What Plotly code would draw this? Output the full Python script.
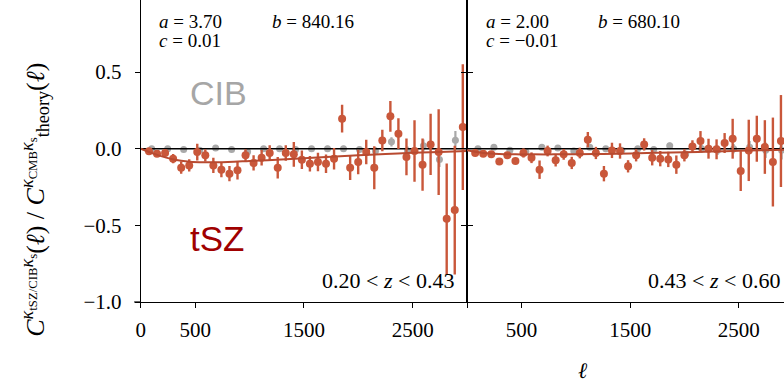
import plotly.graph_objects as go

# ---------------- data ----------------
ell_red = [75, 149, 223, 297, 371, 445, 519, 593, 667, 741, 815, 889, 963, 1037, 1111,
           1185, 1259, 1333, 1407, 1481, 1555, 1629, 1703, 1777, 1851, 1925, 1999, 2073,
           2147, 2221, 2295, 2369, 2443, 2517, 2591, 2665, 2739, 2813, 2887, 2961]
ell_cib = [100, 247, 394, 541, 688, 835, 982, 1129, 1276, 1423, 1570, 1717, 1864, 2011,
           2158, 2305, 2452, 2599, 2746, 2893]

tsz_left = [-0.017, -0.033, -0.028, -0.065, -0.124, -0.109, -0.022, -0.043, -0.109, -0.137,
            -0.163, -0.141, -0.043, -0.093, -0.059, -0.028, -0.124, -0.028, -0.037, -0.072,
            -0.098, -0.087, -0.098, -0.065, 0.196, -0.124, -0.087, -0.022, -0.124, 0.054,
            0.211, 0.098, -0.054, -0.015, -0.104, 0.028, -0.022, -0.457, -0.400, 0.141]
tsz_left_err = [0.015, 0.015, 0.02, 0.03, 0.04, 0.04, 0.055, 0.04, 0.05, 0.05,
                0.05, 0.06, 0.04, 0.05, 0.05, 0.05, 0.07, 0.05, 0.08, 0.06,
                0.05, 0.06, 0.06, 0.07, 0.09, 0.08, 0.08, 0.08, 0.14, 0.07,
                0.10, 0.10, 0.12, 0.20, 0.17, 0.20, 0.28, 0.36, 0.42, 0.41]
cib_left = [0.0, 0.0, -0.005, -0.01, 0.005, -0.005, -0.02, 0.0, 0.0, -0.005,
            0.0, 0.0, 0.0, -0.005, -0.015, 0.045, -0.015, 0.02, -0.07, 0.055]
cib_left_err = [0.01, 0.01, 0.01, 0.01, 0.01, 0.01, 0.015, 0.015, 0.015, 0.015,
                0.015, 0.02, 0.02, 0.02, 0.025, 0.03, 0.03, 0.04, 0.05, 0.06]

tsz_right = [-0.028, -0.033, -0.037, -0.083, -0.043, -0.080, -0.028, -0.059, -0.137, -0.015,
             -0.076, -0.037, -0.093, -0.028, 0.059, -0.028, -0.163, -0.011, -0.015, -0.115,
             -0.043, 0.028, -0.059, -0.065, -0.070, -0.104, -0.043, 0.015, 0.050, 0.0,
             -0.004, 0.037, 0.065, -0.146, -0.011, 0.065, 0.011, -0.087, 0.050, 0.10]
tsz_right_err = [0.015, 0.015, 0.015, 0.02, 0.02, 0.02, 0.03, 0.035, 0.06, 0.035,
                 0.04, 0.035, 0.04, 0.035, 0.05, 0.04, 0.05, 0.05, 0.05, 0.04,
                 0.04, 0.04, 0.05, 0.05, 0.05, 0.06, 0.04, 0.04, 0.065, 0.065,
                 0.065, 0.065, 0.13, 0.13, 0.20, 0.15, 0.175, 0.29, 0.30, 0.35]
cib_right = [0.0, 0.01, -0.01, -0.02, 0.01, 0.005, -0.015, 0.01, 0.0, -0.01,
             0.0, -0.005, 0.02, -0.035, 0.0, -0.01, 0.0, 0.01, -0.01, -0.01]
cib_right_err = [0.01, 0.01, 0.01, 0.01, 0.01, 0.01, 0.015, 0.015, 0.015, 0.015,
                 0.015, 0.02, 0.02, 0.02, 0.025, 0.03, 0.03, 0.04, 0.05, 0.06]

fit_ell = [0, 150, 300, 450, 600, 800, 1000, 1250, 1500, 1750, 2000, 2250, 2500, 2750, 3000]
fit_left = [0.0, -0.04, -0.07, -0.085, -0.088, -0.086, -0.080, -0.072, -0.062, -0.052,
            -0.043, -0.035, -0.027, -0.021, -0.015]
fit_right = [-0.01, -0.028, -0.035, -0.037, -0.037, -0.037, -0.036, -0.034, -0.031, -0.027,
             -0.023, -0.019, -0.014, -0.010, -0.006]

panel_params = [("<i>a</i> = 3.70", "<i>b</i> = 840.16", "<i>c</i> = 0.01", "0.20 < <i>z</i> < 0.43"),
                ("<i>a</i> = 2.00", "<i>b</i> = 680.10", "<i>c</i> = −0.01", "0.43 < <i>z</i> < 0.60")]

x_ticks_left = [0, 500, 1500, 2500]
x_ticks_right = [0, 500, 1500, 2500]
x_ticktext_right = ["", "500", "1500", "2500"]
y_ticks = [-1.0, -0.5, 0.0, 0.5]
y_ticktext = ["−1.0", "−0.5", "0.0", "0.5"]

# ---------------- styles ----------------
W, H = 784, 382
PLOT_BOTTOM = 302.0
RED = "#c9573a"
FIT = "#b84a30"
GRAY = "#a9a9a9"
SERIF = "Liberation Serif, Times New Roman, serif"
SANS = "Liberation Sans, Arial, sans-serif"


def px(x):
    return x / W


def py(y):
    return (PLOT_BOTTOM - y) / PLOT_BOTTOM


fig = go.Figure()

panels = [("x", "y", tsz_left, tsz_left_err, cib_left, cib_left_err, fit_left),
          ("x2", "y2", tsz_right, tsz_right_err, cib_right, cib_right_err, fit_right)]

for xa, ya, tv, te, cv, ce, fv in panels:
    fig.add_trace(go.Scatter(x=ell_cib, y=cv, mode="markers", xaxis=xa, yaxis=ya,
                             marker=dict(color=GRAY, size=7),
                             error_y=dict(type="data", array=ce, color=GRAY, thickness=2.2, width=0),
                             showlegend=False))
    fig.add_trace(go.Scatter(x=[0, 3000], y=[0, 0], mode="lines", xaxis=xa, yaxis=ya,
                             line=dict(color="black", width=1.5), showlegend=False))
    fig.add_trace(go.Scatter(x=ell_red, y=tv, mode="markers", xaxis=xa, yaxis=ya,
                             marker=dict(color=RED, size=8),
                             error_y=dict(type="data", array=te, color=RED, thickness=2.4, width=0),
                             showlegend=False))
    fig.add_trace(go.Scatter(x=fit_ell, y=fv, mode="lines", xaxis=xa, yaxis=ya,
                             line=dict(color=FIT, width=2, shape="spline"), showlegend=False))

axis_common = dict(showgrid=False, zeroline=False, showline=True, linecolor="black",
                   linewidth=1.2, ticks="outside", ticklen=5, tickcolor="black", tickwidth=1.2,
                   tickfont=dict(family=SERIF, size=21, color="black"))

fig.update_layout(
    width=W, height=H,
    margin=dict(l=0, r=0, t=0, b=H - PLOT_BOTTOM),
    paper_bgcolor="white", plot_bgcolor="white",
    xaxis=dict(domain=[px(136.7), px(465.0)], range=[0, 3000], tickmode="array",
               tickvals=x_ticks_left, anchor="y", ticklabelstandoff=4, **axis_common),
    xaxis2=dict(domain=[px(465.0), 1.0], range=[0, (784 - 465.0) / 0.10943], tickmode="array",
                tickvals=x_ticks_right, ticktext=x_ticktext_right, anchor="y2",
                ticklabelstandoff=4, **axis_common),
    yaxis=dict(domain=[0, 1], range=[-1.0, 0.97], tickmode="array", tickvals=y_ticks,
               ticktext=y_ticktext, anchor="x", mirror="ticks", ticklabelstandoff=9,
               **axis_common),
    yaxis2=dict(domain=[0, 1], range=[-1.0, 0.97], tickmode="array", tickvals=y_ticks,
                showticklabels=False, anchor="x2", **axis_common),
)

ann = []
lefts = [153, 482]
bs = [267, 595]
z_right = [454, 782]
for i, (a_t, b_t, c_t, z_t) in enumerate(panel_params):
    f = dict(family=SERIF, size=19, color="black")
    ann.append(dict(x=px(lefts[i]), y=py(21), text=a_t, xanchor="left", yanchor="middle", font=f))
    ann.append(dict(x=px(bs[i]), y=py(21), text=b_t, xanchor="left", yanchor="middle", font=f))
    ann.append(dict(x=px(lefts[i]), y=py(40), text=c_t, xanchor="left", yanchor="middle", font=f))
    ann.append(dict(x=px(z_right[i]), y=py(280), text=z_t, xanchor="right", yanchor="middle",
                    font=dict(family=SERIF, size=22, color="black")))

ann.append(dict(x=px(215), y=py(93), text="CIB", xanchor="center", yanchor="middle",
                font=dict(family=SANS, size=34, color="#a6a6a6")))
ann.append(dict(x=px(213), y=py(238), text="tSZ", xanchor="center", yanchor="middle",
                font=dict(family=SANS, size=35, color="#a00000")))
ann.append(dict(x=px(582), y=py(370), text="<i>ℓ</i>", xanchor="center", yanchor="middle",
                font=dict(family=SERIF, size=22, color="black")))
ytitle = ("<i>C</i><sup><i>κ</i><sub>tSZ/CIB</sub><i>κ</i><sub>s</sub></sup>(<i>ℓ</i>)"
          " / <i>C</i><sup><i>κ</i><sub>CMB</sub><i>κ</i><sub>s</sub></sup><sub>theory</sub>(<i>ℓ</i>)")
ann.append(dict(x=px(30), y=py(200), text=ytitle, textangle=-90, xanchor="center",
                yanchor="middle", font=dict(family=SERIF, size=26, color="black")))

for a in ann:
    a.update(xref="paper", yref="paper", showarrow=False)
fig.update_layout(annotations=ann)

# small extension of the x-axis line to the left of the y-axis
fig.add_shape(type="line", xref="paper", yref="paper", x0=px(130), x1=px(136.7), y0=0, y1=0,
              line=dict(color="black", width=1.2))

fig.write_html("out.html")
